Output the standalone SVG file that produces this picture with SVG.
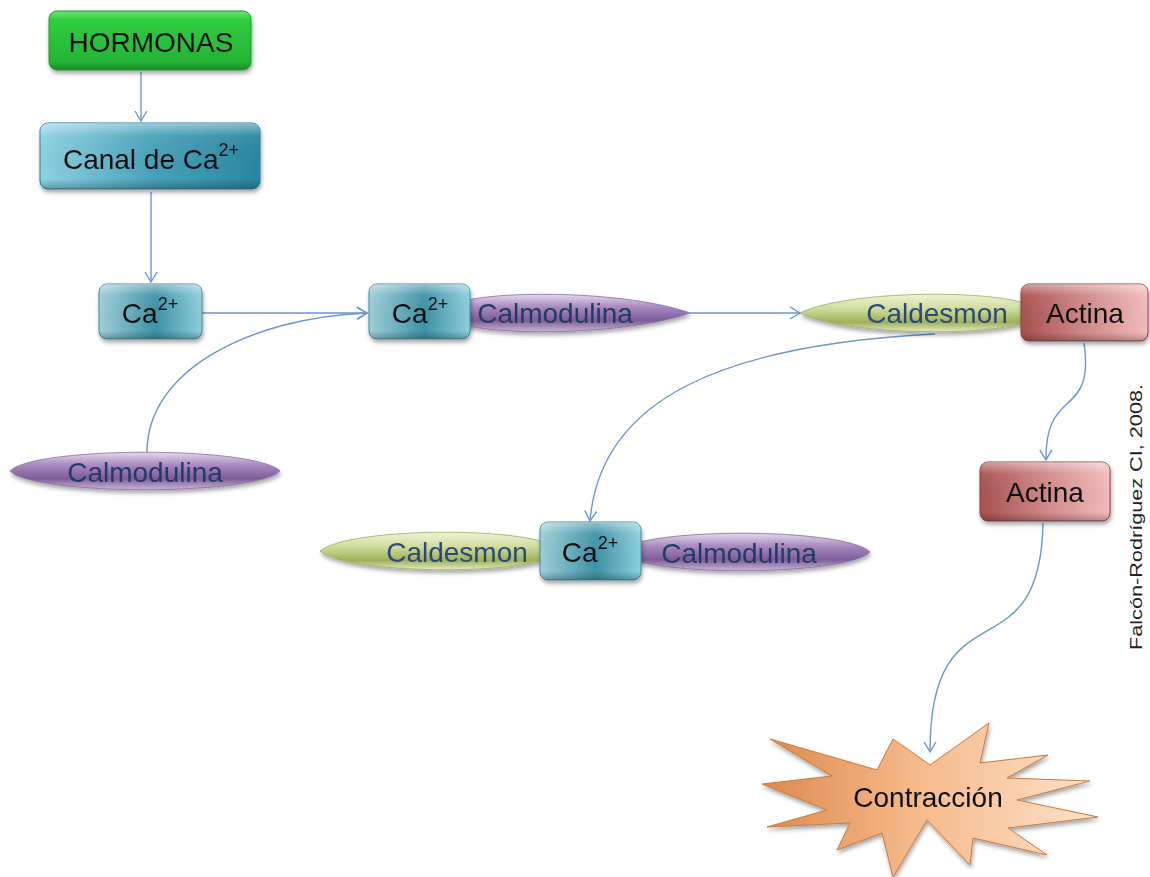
<svg xmlns="http://www.w3.org/2000/svg" width="1150" height="877" viewBox="0 0 1150 877">
<style>
.t{font-family:"Liberation Sans",Arial,sans-serif;font-size:28px;text-anchor:middle;dominant-baseline:central;fill:#111}
.te{font-family:"Liberation Sans",Arial,sans-serif;font-size:28px;text-anchor:middle;dominant-baseline:central;fill:#243a66}
.c{fill:none;stroke:#6a95cf;stroke-width:1.4}
</style>
<defs>
<marker id="ar" markerWidth="14" markerHeight="14" refX="11" refY="7" orient="auto" markerUnits="userSpaceOnUse">
<path d="M1,1 L11,7 L1,13" fill="none" stroke="#6a95cf" stroke-width="1.4"/>
</marker>
<filter id="sh" x="-10%" y="-20%" width="120%" height="150%">
<feDropShadow dx="1" dy="3" stdDeviation="2" flood-color="#000" flood-opacity="0.35"/>
</filter>
<linearGradient id="gG" x1="0" y1="0" x2="0" y2="1"><stop offset="0" stop-color="#6ae676"/><stop offset="0.15" stop-color="#30cc40"/><stop offset="0.85" stop-color="#26b536"/><stop offset="1" stop-color="#1a8a28"/></linearGradient>
<linearGradient id="gT" x1="0" y1="0" x2="1" y2="0"><stop offset="0" stop-color="#8fd2e2"/><stop offset="0.5" stop-color="#4aa3ba"/><stop offset="1" stop-color="#2a86a0"/></linearGradient>
<linearGradient id="gT2" x1="0" y1="0" x2="1" y2="0"><stop offset="0" stop-color="#9fcfd8"/><stop offset="0.55" stop-color="#3e92a6"/><stop offset="1" stop-color="#8ecfdc"/></linearGradient>
<linearGradient id="gV" x1="0" y1="0" x2="0" y2="1"><stop offset="0" stop-color="#ffffff" stop-opacity="0.45"/><stop offset="0.2" stop-color="#ffffff" stop-opacity="0.05"/><stop offset="0.85" stop-color="#000" stop-opacity="0"/><stop offset="1" stop-color="#000" stop-opacity="0.25"/></linearGradient>
<linearGradient id="gP" x1="0" y1="0" x2="0" y2="1"><stop offset="0" stop-color="#e4d8ee"/><stop offset="0.35" stop-color="#a688be"/><stop offset="0.7" stop-color="#7e5c98"/><stop offset="1" stop-color="#c8b4d8"/></linearGradient>
<linearGradient id="gY" x1="0" y1="0" x2="0" y2="1"><stop offset="0" stop-color="#eef3d8"/><stop offset="0.4" stop-color="#cddb9a"/><stop offset="0.75" stop-color="#9fb05a"/><stop offset="1" stop-color="#e2ebc2"/></linearGradient>
<linearGradient id="gR" x1="0" y1="0" x2="1" y2="0"><stop offset="0" stop-color="#a85050"/><stop offset="0.5" stop-color="#d08888"/><stop offset="1" stop-color="#f2bcbc"/></linearGradient>
<linearGradient id="gO" x1="0" y1="0" x2="1" y2="0"><stop offset="0" stop-color="#dc8a4c"/><stop offset="0.45" stop-color="#f5b98a"/><stop offset="1" stop-color="#fde2ca"/></linearGradient>
</defs>
<rect width="1150" height="877" fill="#fff"/>

<g id="connectors">
<path class="c" d="M141,72 L141,121" marker-end="url(#ar)"/>
<path class="c" d="M151,192 L151,282" marker-end="url(#ar)"/>
<path class="c" d="M202,313 L367,313" marker-end="url(#ar)"/>
<path class="c" d="M147,452 C147,370 250,318 367,313" marker-end="url(#ar)"/>
<path class="c" d="M690,313 L800,313" marker-end="url(#ar)"/>
<path class="c" d="M935,334 C720,345 600,400 590,521" marker-end="url(#ar)"/>
<path class="c" d="M1084,343 C1095,420 1045,385 1046,460" marker-end="url(#ar)"/>
<path class="c" d="M1043,523 C1040,680 930,580 930,752" marker-end="url(#ar)"/>
</g>

<g id="hormonas" filter="url(#sh)">
<rect x="49" y="11" width="202" height="59" rx="8" fill="url(#gG)" stroke="#1e9a2c"/>
<text class="t" x="151" y="42">HORMONAS</text>
</g>

<g id="canal" filter="url(#sh)">
<rect x="40" y="123" width="220" height="66" rx="8" fill="url(#gT)" stroke="#2a7f98"/>
<rect x="40" y="123" width="220" height="66" rx="8" fill="url(#gV)"/>
<text class="t" x="151" y="159">Canal de Ca<tspan font-size="18" dy="-9">2+</tspan></text>
</g>

<g id="ca1" filter="url(#sh)">
<rect x="99" y="284" width="103" height="55" rx="8" fill="url(#gT2)" stroke="#3f8a9c"/>
<rect x="99" y="284" width="103" height="55" rx="8" fill="url(#gV)"/>
<text class="t" x="150" y="313">Ca<tspan font-size="18" dy="-9">2+</tspan></text>
</g>

<g id="calmodulina1" filter="url(#sh)">
<path d="M440,313 C450,288 620,288 690,313 C620,338 450,338 440,313 Z" fill="url(#gP)" stroke="#8a6ca2" stroke-width="0.8"/>
<text class="te" x="555" y="313">Calmodulina</text>
</g>

<g id="ca2" filter="url(#sh)">
<rect x="369" y="284" width="101" height="55" rx="8" fill="url(#gT2)" stroke="#3f8a9c"/>
<rect x="369" y="284" width="101" height="55" rx="8" fill="url(#gV)"/>
<text class="t" x="420" y="313">Ca<tspan font-size="18" dy="-9">2+</tspan></text>
</g>

<g id="caldesmon1" filter="url(#sh)">
<path d="M800,313 C850,288 1030,288 1040,313 C1030,338 850,338 800,313 Z" fill="url(#gY)" stroke="#9aae5e" stroke-width="0.8"/>
<text class="te" x="937" y="313" style="fill:#2a4a7a">Caldesmon</text>
</g>

<g id="actina1" filter="url(#sh)">
<rect x="1021" y="284" width="127" height="57" rx="8" fill="url(#gR)" stroke="#8a4040"/>
<rect x="1021" y="284" width="127" height="57" rx="8" fill="url(#gV)"/>
<text class="t" x="1085" y="313">Actina</text>
</g>

<g id="calmodulina2" filter="url(#sh)">
<path d="M10,471 C35,446 255,446 280,471 C255,496 35,496 10,471 Z" fill="url(#gP)" stroke="#8a6ca2" stroke-width="0.8"/>
<text class="te" x="145" y="472">Calmodulina</text>
</g>

<g id="actina2" filter="url(#sh)">
<rect x="980" y="462" width="130" height="59" rx="8" fill="url(#gR)" stroke="#8a4040"/>
<rect x="980" y="462" width="130" height="59" rx="8" fill="url(#gV)"/>
<text class="t" x="1045" y="492">Actina</text>
</g>

<g id="complejo">
<g id="caldesmon2" filter="url(#sh)">
<path d="M320,551 C350,526 545,526 560,551 C545,576 350,576 320,551 Z" fill="url(#gY)" stroke="#9aae5e" stroke-width="0.8"/>
<text class="te" x="457" y="552" style="fill:#2a4a7a">Caldesmon</text>
</g>
<g id="calmodulina3" filter="url(#sh)">
<path d="M620,552 C635,527 845,527 870,552 C845,577 635,577 620,552 Z" fill="url(#gP)" stroke="#8a6ca2" stroke-width="0.8"/>
<text class="te" x="739" y="553">Calmodulina</text>
</g>
<g id="ca3" filter="url(#sh)">
<rect x="540" y="522" width="101" height="58" rx="8" fill="url(#gT2)" stroke="#3f8a9c"/>
<rect x="540" y="522" width="101" height="58" rx="8" fill="url(#gV)"/>
<text class="t" x="590" y="552">Ca<tspan font-size="18" dy="-9">2+</tspan></text>
</g>
</g>

<g id="contraccion" filter="url(#sh)">
<polygon points="770,739 877,770 893,739 930,765 989,723 980,763 1048,755 1007,778 1090,781 1017,800 1098,817 1008,828 1047,855 973,838 970,865 927,820 893,877 882,833 837,850 850,823 767,827 827,810 762,784 832,776" fill="url(#gO)" stroke="#c87a3c" stroke-width="1" stroke-linejoin="miter"/>
<text class="t" x="928" y="797">Contracción</text>
</g>

<text x="1136" y="517" transform="rotate(-90 1136 517)" font-family="'Liberation Sans',Arial,sans-serif" font-size="17" text-anchor="middle" dominant-baseline="central" fill="#222" textLength="266" lengthAdjust="spacingAndGlyphs">Falcón-Rodríguez CI, 2008.</text>
</svg>
